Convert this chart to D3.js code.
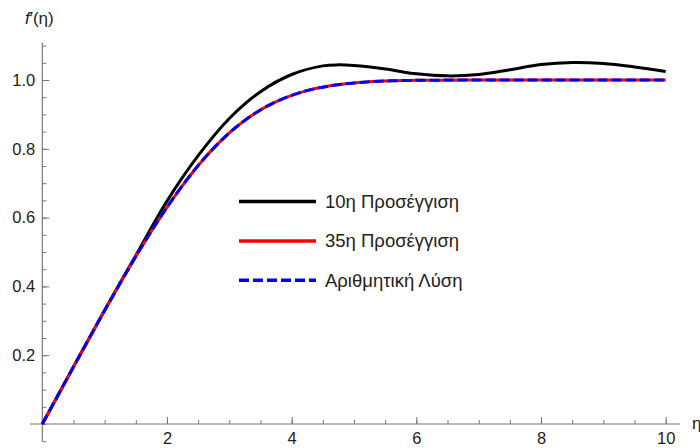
<!DOCTYPE html>
<html>
<head>
<meta charset="utf-8">
<script src="https://cdn.jsdelivr.net/npm/d3@7"></script>
<style>
  body { margin: 0; background: #fff; }
  svg { font-family: "Liberation Sans", Arial, sans-serif; }
  .axis text { fill: #222; font-size: 16.5px; }
  .axis line { stroke: #777; }
</style>
</head>
<body>
<div class="plot"></div>
<script>
// eta grid for the numerical (Blasius) solution
const etaNumeric = [0, 0.2, 0.4, 0.6, 0.8, 1.0, 1.2, 1.4, 1.6, 1.8, 2.0, 2.2, 2.4, 2.6, 2.8,
  3.0, 3.2, 3.4, 3.6, 3.8, 4.0, 4.2, 4.4, 4.6, 4.8, 5.0, 5.2, 5.4, 5.6, 5.8, 6.0,
  6.4, 6.8, 7.2, 7.6, 8.0, 9.0, 10.0];
const fpNumeric = [0, 0.0664, 0.1328, 0.1989, 0.2647, 0.3298, 0.3938, 0.4563, 0.5168, 0.5748,
  0.6298, 0.6813, 0.7290, 0.7725, 0.8115, 0.8461, 0.8761, 0.9018, 0.9233, 0.9411,
  0.9555, 0.9670, 0.9759, 0.9827, 0.9878, 0.9916, 0.9943, 0.9962, 0.9975, 0.9984,
  0.9990, 0.9996, 0.9999, 1.0, 1.0, 1.0, 1.0, 1.0];
// 35th approximation - sits on top of the numerical curve
const fp35 = fpNumeric.slice();

// 10th approximation
const eta10 = [0, 0.5, 1.0, 1.5, 2.0, 2.5, 3.0, 3.5, 4.0, 4.5, 4.75, 5.0, 5.5, 6.0, 6.5, 7.0,
  7.5, 8.0, 8.5, 9.0, 9.5, 10.0];
const fp10 = [0, 0.166, 0.331, 0.490, 0.648, 0.780, 0.888, 0.966, 1.016, 1.041, 1.044, 1.042,
  1.032, 1.018, 1.012, 1.016, 1.030, 1.045, 1.051, 1.048, 1.038, 1.025];

const xTicks = [2, 4, 6, 8, 10];
const yTicks = [0.2, 0.4, 0.6, 0.8, 1.0];
const legendLabels = ["10η Προσέγγιση", "35η Προσέγγιση", "Αριθμητική Λύση"];

const width = 700;
const height = 448;

const svg = d3.select(".plot")
  .append("svg")
  .attr("width", width)
  .attr("height", height);

const xScale = d3.scaleLinear().domain([0, 10]).range([42.3, 665.7]);
const yScale = d3.scaleLinear().domain([0, 1]).range([424, 80]);

// axis lines (extend a bit past the data range like Mathematica does)
svg.append("line")
  .attr("x1", xScale(-0.2)).attr("x2", xScale(10.23))
  .attr("y1", yScale(0)).attr("y2", yScale(0))
  .attr("stroke", "#777").attr("stroke-width", 1.2);
svg.append("line")
  .attr("x1", xScale(0)).attr("x2", xScale(0))
  .attr("y1", yScale(-0.05)).attr("y2", yScale(1.108))
  .attr("stroke", "#777").attr("stroke-width", 1.2);

// minor ticks
svg.append("g")
  .attr("class", "axis")
  .attr("transform", `translate(0, ${yScale(0)})`)
  .call(d3.axisBottom(xScale)
    .tickValues(d3.range(0, 10.01, 0.5))
    .tickSize(-4).tickFormat(""))
  .call(g => g.select(".domain").remove());
svg.append("g")
  .attr("class", "axis")
  .attr("transform", `translate(${xScale(0)}, 0)`)
  .call(d3.axisLeft(d3.scaleLinear().domain([-0.05, 1.1]).range([yScale(-0.05), yScale(1.1)]))
    .tickValues(d3.range(-0.05, 1.101, 0.05))
    .tickSize(-4).tickFormat(""))
  .call(g => g.select(".domain").remove());

// major ticks with labels
svg.append("g")
  .attr("class", "axis")
  .attr("transform", `translate(0, ${yScale(0)})`)
  .call(d3.axisBottom(xScale).tickValues(xTicks).tickSize(-7).tickPadding(8).tickFormat(d3.format("d")))
  .call(g => g.select(".domain").remove());

svg.append("g")
  .attr("class", "axis")
  .attr("transform", `translate(${xScale(0)}, 0)`)
  .call(d3.axisLeft(yScale).tickValues(yTicks).tickSize(-7).tickPadding(7).tickFormat(d3.format(".1f")))
  .call(g => g.select(".domain").remove());

// axis labels
svg.append("text")
  .attr("x", 25).attr("y", 24)
  .attr("font-size", 17).attr("fill", "#222")
  .html('<tspan font-style="italic">f</tspan>′(η)');
svg.append("text")
  .attr("x", 692).attr("y", 429)
  .attr("font-size", 17).attr("fill", "#222")
  .text("η");

// curves
const line = d3.line()
  .x(d => xScale(d[0]))
  .y(d => yScale(d[1]))
  .curve(d3.curveCatmullRom.alpha(0.5));

svg.append("path")
  .datum(eta10.map((e, i) => [e, fp10[i]]))
  .attr("fill", "none").attr("stroke", "#000").attr("stroke-width", 3)
  .attr("d", line);

svg.append("path")
  .datum(etaNumeric.map((e, i) => [e, fp35[i]]))
  .attr("fill", "none").attr("stroke", "#ff0000").attr("stroke-width", 3)
  .attr("d", line);

svg.append("path")
  .datum(etaNumeric.map((e, i) => [e, fpNumeric[i]]))
  .attr("fill", "none").attr("stroke", "#0000ff").attr("stroke-width", 3)
  .attr("stroke-dasharray", "10,4")
  .attr("d", line);

// legend
const legendStyles = [
  { color: "#000", dash: null },
  { color: "#ff0000", dash: null },
  { color: "#0000ff", dash: "10,4" },
];
const legend = svg.selectAll(".legend")
  .data(legendLabels)
  .enter()
  .append("g")
  .attr("class", "legend")
  .attr("transform", (d, i) => `translate(239, ${201.6 + i * 39.3})`);

legend.append("line")
  .attr("x1", 0).attr("x2", 77)
  .attr("stroke", (d, i) => legendStyles[i].color)
  .attr("stroke-width", 3.5)
  .attr("stroke-dasharray", (d, i) => legendStyles[i].dash);

legend.append("text")
  .attr("x", 86).attr("dy", "0.35em")
  .attr("font-size", 18.5).attr("fill", "#222")
  .text(d => d);
</script>
</body>
</html>
